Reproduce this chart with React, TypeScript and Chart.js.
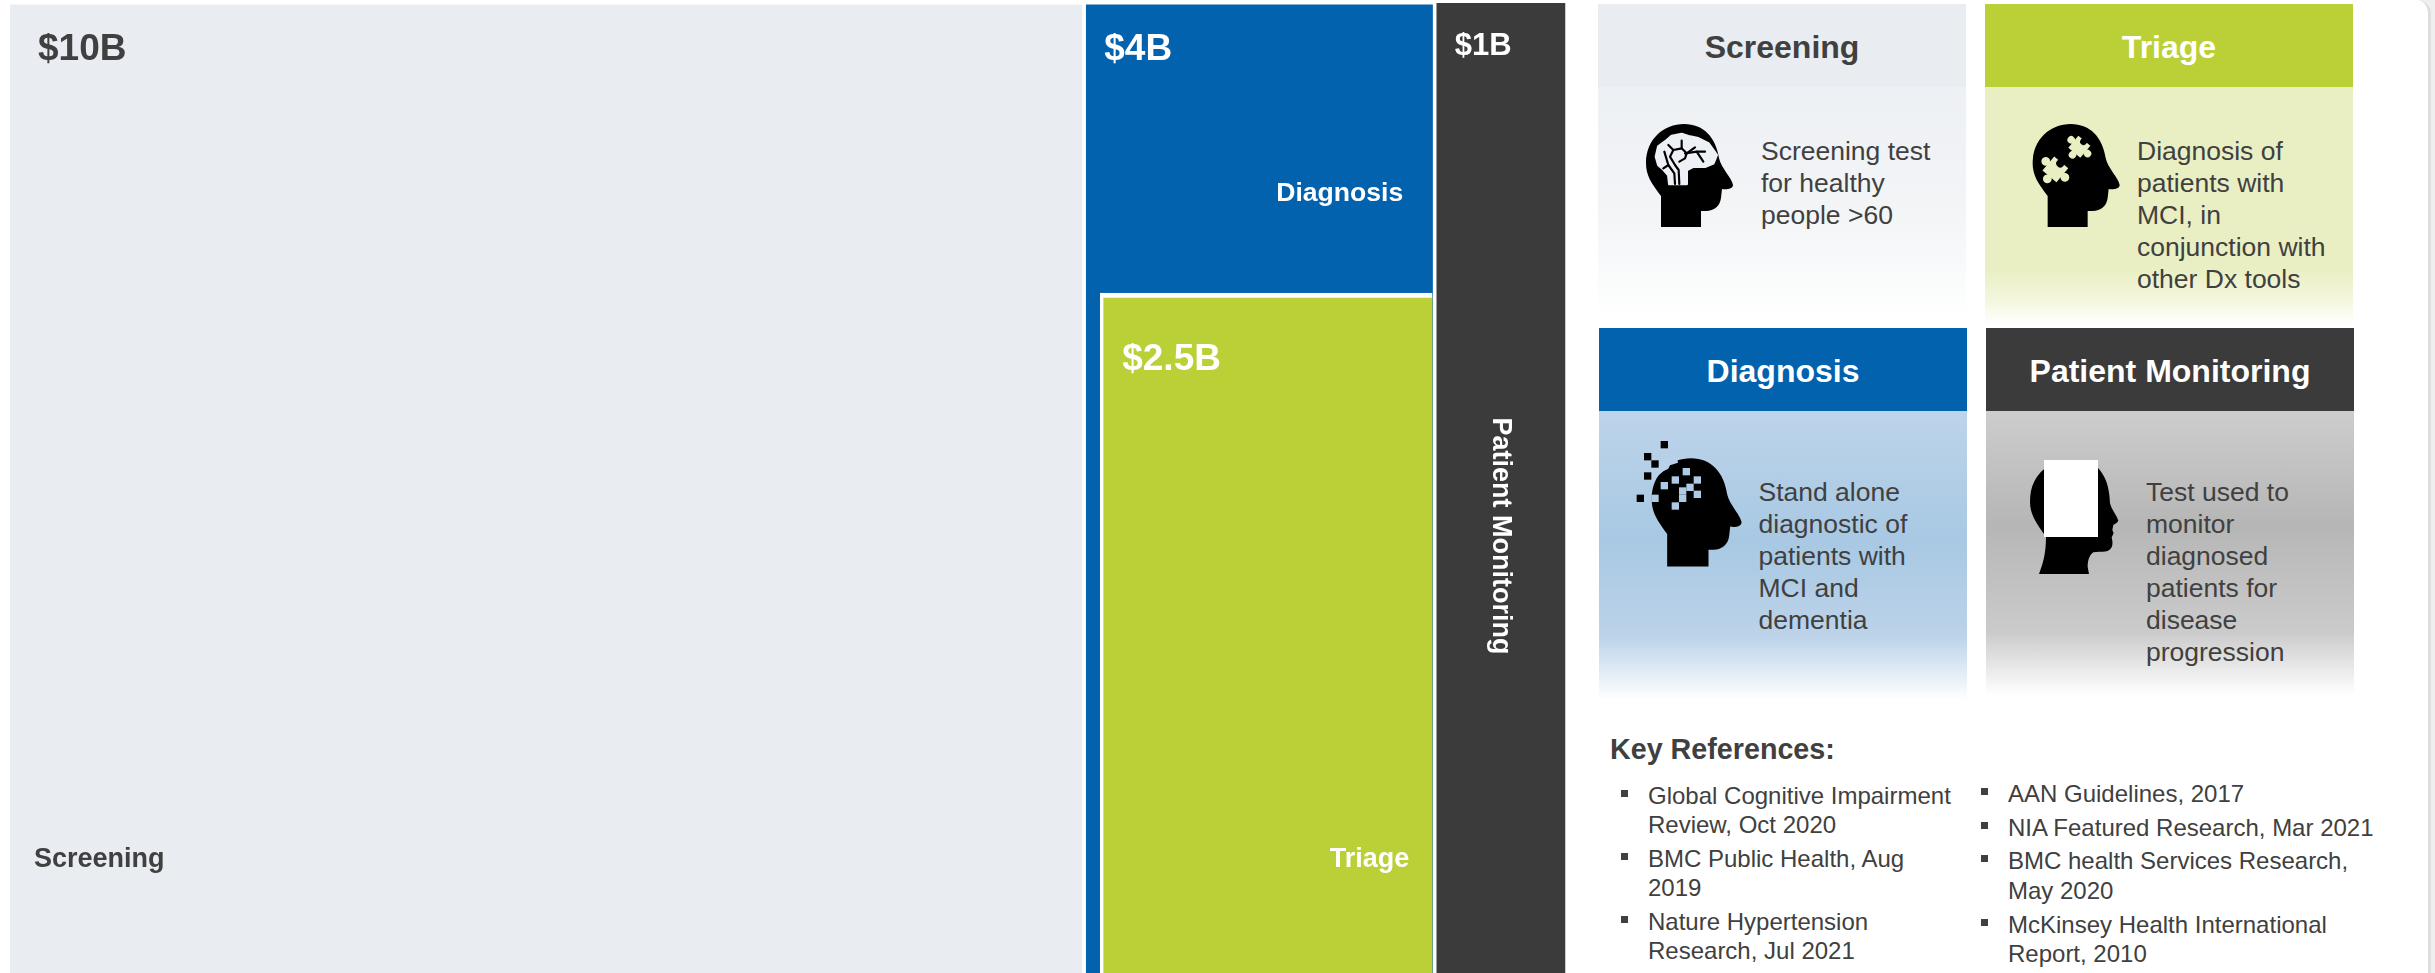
import React, { useEffect, useRef } from "react";
import { Chart, registerables } from "chart.js";

Chart.register(...registerables);

const categories = ["Screening", "Diagnosis", "Triage", "Patient Monitoring"];
const marketLabels = ["$10B", "$4B", "$2.5B", "$1B"];
const columnStart = [0, 10.04, 10.17, 13.31];
const columnEnd = [10, 13.27, 13.27, 14.505];
const columnTop = [99.8, 99.8, 70.1, 100];
const drawOrder = [3, 2, 0, 1];
const barColors = ["#e9ecf1", "#0262ae", "#bbd036", "#3b3b3b"];

const X_MAX = 14.515;
const CANVAS_W = 1556;
const CANVAS_H = 970;
const PX_PER_UNIT = CANVAS_W / X_MAX;
const FONT = '"Liberation Sans", Arial, sans-serif';
const INK = "#404040";

type Place = { dx: number; dy: number; size: number; color: string; align?: CanvasTextAlign };
const valuePlaces: Place[] = [
  { dx: 28, dy: 55, size: 37, color: INK },
  { dx: 18, dy: 55, size: 37, color: "#fff" },
  { dx: 22, dy: 77, size: 37, color: "#fff" },
  { dx: 18, dy: 52, size: 31, color: "#fff" },
];
const namePlaces: Place[] = [
  { dx: 24, dy: 862, size: 27, color: INK },
  { dx: 317, dy: 196, size: 26.6, color: "#fff", align: "right" },
  { dx: 309, dy: 574, size: 27, color: "#fff", align: "right" },
];

const labelPlugin = {
  id: "rectLabels",
  afterDatasetsDraw(chart: Chart) {
    const { ctx } = chart;
    ctx.save();
    ctx.textBaseline = "alphabetic";
    categories.forEach((name, i) => {
      const el: any = chart.getDatasetMeta(i).data[0];
      const left = el.x - el.width / 2;
      const top = el.y;
      const v = valuePlaces[i];
      ctx.font = `bold ${v.size}px ${FONT}`;
      ctx.fillStyle = v.color;
      ctx.textAlign = "left";
      ctx.fillText(marketLabels[i], left + v.dx, top + v.dy);
      const n = namePlaces[i];
      if (n) {
        ctx.font = `bold ${n.size}px ${FONT}`;
        ctx.fillStyle = n.color;
        ctx.textAlign = n.align ?? "left";
        ctx.fillText(name, left + n.dx, top + n.dy);
      } else {
        ctx.save();
        ctx.translate(el.x - 8, top + 533);
        ctx.rotate(Math.PI / 2);
        ctx.font = `bold 27px ${FONT}`;
        ctx.fillStyle = "#fff";
        ctx.textAlign = "center";
        ctx.fillText(name, 0, 0);
        ctx.restore();
      }
    });
    ctx.restore();
  },
};

type CardSpec = {
  title: string;
  titleColor: string;
  head: string;
  x: number;
  y: number;
  w: number;
  bodyH: number;
  gradient: string;
  lines: string[];
  textX: number;
  textY: number;
  icon: React.ReactNode;
};

const HEAD =
  "M15 103 L15 72 C6 60 0 52 0 39 C0 15 18 0 38 0 C58 0 70 14 73 34 C75 44 86 54 87 61 C87 65 80 66 76 65 L75 74 C74 82 68 87 60 87 L55 87 L55 103 Z";

const BrainIcon = () => (
  <svg style={{ position: "absolute", left: 1630, top: 110 }} width={120} height={130} viewBox="0 0 360 390">
    <path d={HEAD} fill="#000" transform="translate(48 42) scale(3)" />
    <path
      d="M118 222 L115 195 L100 178 L85 165 L78 140 L85 110 L105 95 L125 78 L155 72 L180 80 L205 85 L235 100 L260 135 L250 160 L225 170 L190 170 L170 180 L170 222 Z"
      fill="#edf1f5"
      stroke="#edf1f5"
      strokeWidth={8}
      strokeLinejoin="round"
    />
    <g stroke="#000" strokeWidth={6.5} fill="none" strokeLinecap="round" strokeLinejoin="round">
      <path d="M135 222 L133 190 L115 165 L103 125" />
      <path d="M115 165 L100 175" />
      <path d="M148 222 L146 180 L135 165 L120 140 L130 120 L155 115 L170 130 L165 145 L148 155" />
      <path d="M130 120 L115 105" />
      <path d="M155 115 L155 92" />
      <path d="M170 130 L195 112" />
      <path d="M165 130 L200 125 L220 155" />
      <path d="M200 125 L225 125" />
    </g>
  </svg>
);

const Puzzle = ({ cx, cy, s, fill }: { cx: number; cy: number; s: number; fill: string }) => (
  <g transform={`translate(${cx} ${cy}) rotate(40)`}>
    <rect x={-s / 2} y={-s / 2} width={s} height={s} fill={fill} />
    <circle cx={0} cy={s * 0.68} r={s * 0.24} fill={fill} />
    <circle cx={s * 0.68} cy={0} r={s * 0.24} fill={fill} />
    <circle cx={-s * 0.68} cy={0} r={s * 0.24} fill={fill} />
    <circle cx={0} cy={-s * 0.42} r={s * 0.22} fill="#000" />
  </g>
);

const PuzzleIcon = () => (
  <svg style={{ position: "absolute", left: 2020, top: 110 }} width={120} height={130} viewBox="0 0 360 390">
    <path d={HEAD} fill="#000" transform="translate(38 42) scale(3)" />
    <Puzzle cx={178} cy={110} s={47} fill="#e9efc2" />
    <Puzzle cx={106} cy={178} s={55} fill="#e9efc2" />
  </svg>
);

const darkPixels = [[133, 44], [83, 80], [105, 102], [83, 138], [61, 205]];
const lightPixels = [[199, 125], [166, 150], [232, 150], [133, 167], [210, 172], [188, 183], [232, 193], [188, 205], [166, 228], [105, 205]];

const PixelIcon = () => (
  <svg style={{ position: "absolute", left: 1620, top: 430 }} width={140} height={150} viewBox="0 0 420 450">
    <path d={HEAD} fill="#000" transform="translate(95 85) scale(3.1 3.15)" />
    <path d="M92 100 L170 76 L174 98 L150 106 L145 116 L130 124 L116 136 L92 165 Z" fill="#b9d1e9" />
    {darkPixels.map(([x, y], i) => (
      <rect key={i} x={x - 11} y={y - 11} width={22} height={22} fill="#000" />
    ))}
    {lightPixels.map(([x, y], i) => (
      <rect key={i} x={x - 11} y={y - 11} width={22} height={22} fill="#aecbe5" />
    ))}
  </svg>
);

const ProfileIcon = () => (
  <svg style={{ position: "absolute", left: 2015, top: 450 }} width={120} height={135} viewBox="0 0 360 405">
    <path
      d="M72 372 C84 340 93 310 93 260 C60 215 45 190 45 155 C45 110 60 80 90 55 L250 55 C272 80 283 110 285 160 C290 180 305 195 310 212 C306 220 298 222 295 225 L292 240 L296 250 L290 262 L292 272 C294 290 288 300 275 304 C260 307 245 305 235 307 C222 315 218 335 218 350 L222 372 Z"
      fill="#000"
    />
    <rect x={87} y={30} width={162} height={231} fill="#fff" />
  </svg>
);

const cards: CardSpec[] = [
  {
    title: "Screening", titleColor: INK, head: "#e9ecf1", x: 1598, y: 4, w: 368, bodyH: 238,
    gradient: "linear-gradient(#edf0f4 0%, #f3f5f7 55%, #fbfcfc 85%, #ffffff 97%)",
    lines: ["Screening test", "for healthy", "people >60"], textX: 1761, textY: 160, icon: <BrainIcon />,
  },
  {
    title: "Triage", titleColor: "#fff", head: "#bbd036", x: 1985, y: 4, w: 368, bodyH: 238,
    gradient: "linear-gradient(#e9efc2 0%, #e9efc2 76%, #f3f6dc 89%, #ffffff 100%)",
    lines: ["Diagnosis of", "patients with", "MCI, in", "conjunction with", "other Dx tools"], textX: 2137, textY: 160, icon: <PuzzleIcon />,
  },
  {
    title: "Diagnosis", titleColor: "#fff", head: "#0262ae", x: 1599, y: 328, w: 368, bodyH: 289,
    gradient: "linear-gradient(#bdd4ea 0%, #a8c8e3 45%, #bcd3e9 78%, #ffffff 100%)",
    lines: ["Stand alone", "diagnostic of", "patients with", "MCI and", "dementia"], textX: 1758.5, textY: 501, icon: <PixelIcon />,
  },
  {
    title: "Patient Monitoring", titleColor: "#fff", head: "#3b3b3b", x: 1986, y: 328, w: 368, bodyH: 284,
    gradient: "linear-gradient(#cdcdcd 0%, #b6b6b6 40%, #cbcbcb 78%, #ffffff 100%)",
    lines: ["Test used to", "monitor", "diagnosed", "patients for", "disease", "progression"], textX: 2146, textY: 501, icon: <ProfileIcon />,
  },
];

const refsLeft: string[][] = [
  ["Global Cognitive Impairment", "Review, Oct 2020"],
  ["BMC Public Health, Aug", "2019"],
  ["Nature Hypertension", "Research, Jul 2021"],
];
const refsRight: string[][] = [
  ["AAN Guidelines, 2017"],
  ["NIA Featured Research, Mar 2021"],
  ["BMC health Services Research,", "May 2020"],
  ["McKinsey Health International", "Report, 2010"],
];

const abs = (left: number, baseline: number, size: number, extra: React.CSSProperties = {}): React.CSSProperties => ({
  position: "absolute",
  left,
  top: baseline - size * 0.92,
  fontSize: size,
  lineHeight: `${size * 1.15}px`,
  whiteSpace: "nowrap",
  color: INK,
  ...extra,
});

function RefColumn({ rows, bulletX, textX, baselines }: { rows: string[][]; bulletX: number; textX: number; baselines: number[] }) {
  let k = 0;
  return (
    <>
      {rows.map((lines, r) => (
        <React.Fragment key={r}>
          <div style={{ position: "absolute", left: bulletX, top: baselines[k] - 14, width: 7, height: 7, background: "#404040" }} />
          {lines.map((t) => {
            const b = baselines[k++];
            return <div key={t} style={abs(textX, b, 24)}>{t}</div>;
          })}
        </React.Fragment>
      ))}
    </>
  );
}

export default function App() {
  const ref = useRef<HTMLCanvasElement>(null);
  useEffect(() => {
    document.body.style.margin = "0";
    const chart = new Chart(ref.current!, {
      type: "bar",
      data: {
        datasets: categories.map((label, i) => ({
          label,
          data: [{ x: (columnStart[i] + columnEnd[i]) / 2, y: [0, columnTop[i]] }] as any,
          backgroundColor: barColors[i],
          barThickness: (columnEnd[i] - columnStart[i]) * PX_PER_UNIT,
          grouped: false,
          order: drawOrder[i],
          borderSkipped: false,
          borderColor: "#ffffff",
          borderWidth: label === "Triage" ? { left: 3.5, top: 5, right: 0, bottom: 0 } : 0,
        })),
      },
      options: {
        animation: false,
        responsive: false,
        devicePixelRatio: 1,
        layout: { padding: 0 },
        plugins: { legend: { display: false }, tooltip: { enabled: false } },
        scales: {
          x: { type: "linear", min: 0, max: X_MAX, offset: false, display: false },
          y: { type: "linear", min: 0, max: 100, display: false },
        },
      },
      plugins: [labelPlugin],
    });
    return () => chart.destroy();
  }, []);

  return (
    <div style={{ position: "relative", width: 2435, height: 973, overflow: "hidden", fontFamily: FONT, background: "#fff" }}>
      <canvas ref={ref} width={CANVAS_W} height={CANVAS_H} style={{ position: "absolute", left: 10, top: 3, width: CANVAS_W, height: CANVAS_H }} />
      {cards.map((c) => (
        <React.Fragment key={c.title}>
          <div
            style={{
              position: "absolute", left: c.x, top: c.y, width: c.w, height: 83, background: c.head, color: c.titleColor,
              fontWeight: 700, fontSize: 32, lineHeight: "87px", textAlign: "center", whiteSpace: "nowrap",
            }}
          >
            {c.title}
          </div>
          <div style={{ position: "absolute", left: c.x, top: c.y + 83, width: c.w, height: c.bodyH, background: c.gradient }} />
          {c.icon}
          {c.lines.map((t, i) => (
            <div key={t} style={abs(c.textX, c.textY + i * 32, 26.5)}>{t}</div>
          ))}
        </React.Fragment>
      ))}
      <div style={abs(1610, 759, 28.7, { fontWeight: 700 })}>Key References:</div>
      <RefColumn rows={refsLeft} bulletX={1621} textX={1648} baselines={[804, 833, 867, 896, 930, 959]} />
      <RefColumn rows={refsRight} bulletX={1981} textX={2008} baselines={[802, 836, 869, 899, 933, 962]} />
      <div style={{ position: "absolute", left: 2412, top: 0, width: 23, height: 973, background: "#efefef" }} />
      <div
        style={{
          position: "absolute", left: 2396, top: 0, width: 32, height: 973, background: "#fff",
          borderRight: "3px solid #dedede", borderTopRightRadius: 14,
        }}
      />
    </div>
  );
}
